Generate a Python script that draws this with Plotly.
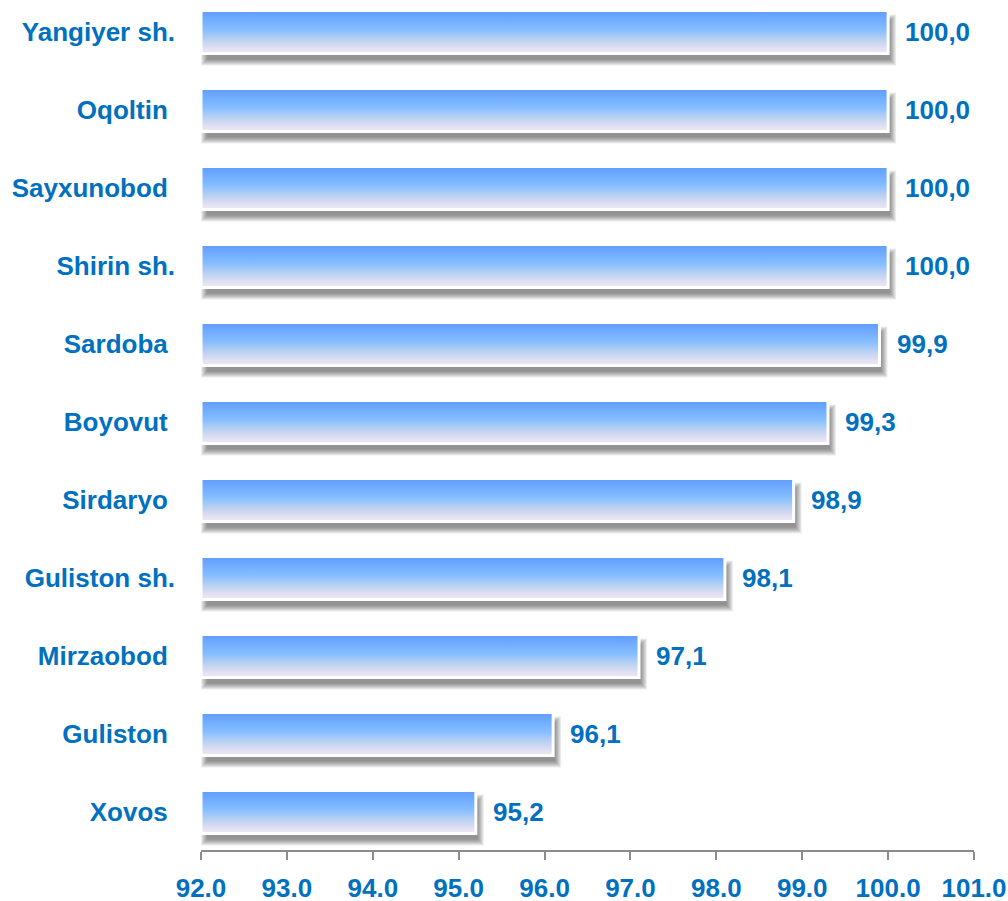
import plotly.graph_objects as go

# ---- data (top to bottom as shown) ----
categories = ["Yangiyer sh.", "Oqoltin\u00a0", "Sayxunobod\u00a0", "Shirin sh.", "Sardoba\u00a0",
              "Boyovut\u00a0", "Sirdaryo\u00a0", "Guliston sh.", "Mirzaobod\u00a0", "Guliston\u00a0", "Xovos\u00a0"]
values = [100.0, 100.0, 100.0, 100.0, 99.9, 99.3, 98.9, 98.1, 97.1, 96.1, 95.2]
value_labels = ["100,0", "100,0", "100,0", "100,0", "99,9", "99,3", "98,9", "98,1", "97,1", "96,1", "95,2"]
x_ticks = [92, 93, 94, 95, 96, 97, 98, 99, 100, 101]

# ---- layout geometry ----
W, H = 1008, 901
ml, mr, mt, mb = 201, 34, 0, 51
xmin, xmax = 92, 101
ymin, ymax = -0.487, 10.41
px_x = (W - ml - mr) / (xmax - xmin)
px_y = (H - mt - mb) / (ymax - ymin)

BLUE = "#0070C0"
FONT = dict(family="Liberation Sans, Arial, sans-serif", size=26, color=BLUE, weight="bold")

n = len(categories)
ypos = [n - 1 - i for i in range(n)]
half = 21.5 / px_y

fig = go.Figure()

# shadows (blurred by layering)
sdx, sdy = 4 / px_x, 8 / px_y
for v, y in zip(values, ypos):
    for e in [4, 3, 2, 1, 0, -1, -2]:
        ex, ey = e / px_x, e / px_y
        x0, x1 = xmin + sdx - ex, v + sdx + ex
        y0, y1 = y - half - sdy - ey, y + half - sdy + ey
        fig.add_trace(go.Scatter(
            x=[x0, x1, x1, x0, x0], y=[y0, y0, y1, y1, y0],
            mode="lines", line=dict(width=0), fill="toself",
            fillcolor="rgba(0,0,0,0.075)", hoverinfo="skip", showlegend=False))

# bars with vertical gradient
for v, y in zip(values, ypos):
    fig.add_trace(go.Scatter(
        x=[xmin, v, v, xmin, xmin], y=[y - half, y - half, y + half, y + half, y - half],
        mode="lines", line=dict(color="white", width=3), fill="toself",
        fillgradient=dict(type="vertical",
                          colorscale=[[0, "#EEE9F7"], [0.12, "#E2E0F3"], [0.35, "#B5CFF2"],
                                      [0.55, "#86BEFF"], [1, "#5E9CFF"]]),
        hoverinfo="skip", showlegend=False))

for v, y, t in zip(values, ypos, value_labels):
    fig.add_annotation(x=v, y=y, text=t, xanchor="left", yanchor="middle", xshift=15,
                       showarrow=False, font=FONT)

fig.update_layout(
    width=W, height=H,
    margin=dict(l=ml, r=mr, t=mt, b=mb, autoexpand=False),
    plot_bgcolor="white", paper_bgcolor="white",
    xaxis=dict(range=[xmin, xmax], tickvals=x_ticks, tickformat=".1f", automargin=False,
               showgrid=False, zeroline=False, showline=True, linecolor="#8C8C8C", linewidth=1.5,
               ticks="outside", ticklen=8, tickwidth=1.5, tickcolor="#8C8C8C",
               tickfont=FONT, ticklabelstandoff=6),
    yaxis=dict(range=[ymin, ymax], tickvals=ypos, ticktext=categories, automargin=False,
               showgrid=False, zeroline=False, showline=False, ticks="",
               tickfont=FONT, ticklabelstandoff=25),
)

fig.write_html("out.html", config={"displayModeBar": False},
               post_script="document.body.style.margin='0';document.body.style.overflow='hidden';")
